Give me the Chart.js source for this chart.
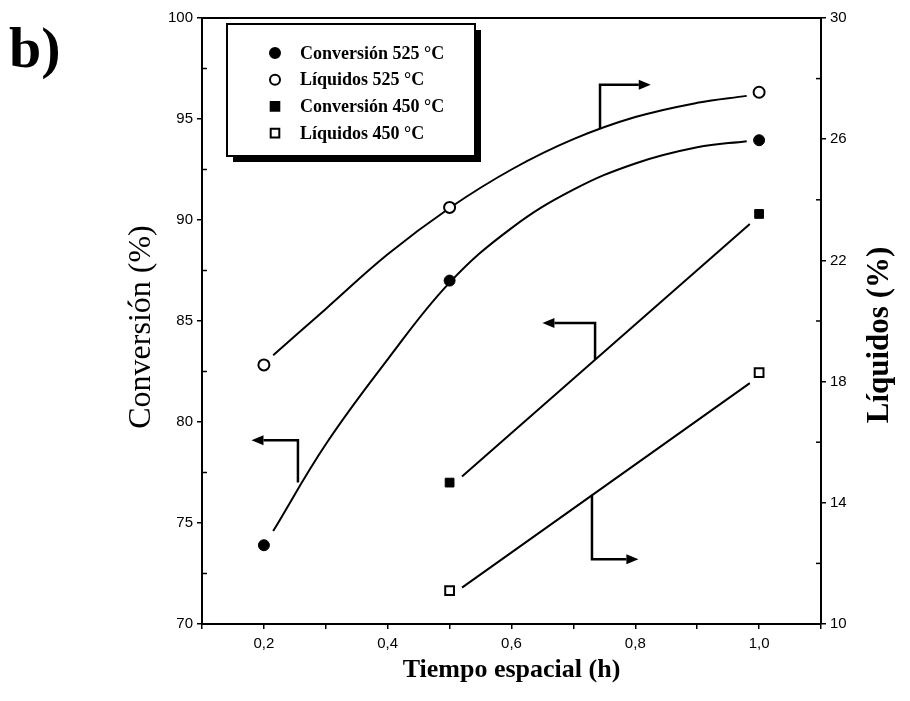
<!DOCTYPE html>
<html>
<head>
<meta charset="utf-8">
<script src="https://cdn.jsdelivr.net/npm/chart.js@4/dist/chart.umd.min.js"></script>
<style>
  html, body { margin: 0; background: #fff; }
  #wrap { width: 910px; height: 701px; }
</style>
</head>
<body>
<div id="wrap"><canvas id="chart"></canvas></div>
<script>
/** DATA */

// measured points
const tiempo525 = [0.2, 0.5, 1.0];
const conv525 = [73.9, 87.0, 93.95];
const liq525 = [18.55, 23.75, 27.55];

const tiempo450 = [0.5, 1.0];
const conv450 = [77.0, 90.3];
const liq450 = [11.1, 18.3];

// fitted curves as drawn in the figure
const fitX525 = [0.215, 0.3, 0.4, 0.5, 0.6, 0.7, 0.8, 0.9, 0.98];
const conv525Fit = [74.6, 78.9, 83.1, 86.9, 89.6, 91.5, 92.8, 93.6, 93.9];
const liq525Fit = [18.87, 20.4, 22.2, 23.73, 25.0, 26.0, 26.73, 27.2, 27.43];

const fitX450 = [0.52, 0.985];
const conv450Fit = [77.3, 89.8];
const liq450Fit = [11.2, 17.95];

// arrows (x, left axis value), last point is the tip
const arrows = [
    [[0.255, 77.0], [0.255, 79.1], [0.18, 79.1]],
    [[0.743, 94.5], [0.743, 96.7], [0.825, 96.7]],
    [[0.735, 83.1], [0.735, 84.9], [0.65, 84.9]],
    [[0.730, 76.4], [0.730, 73.2], [0.805, 73.2]]
];

const xLabels = [0.2, 0.4, 0.6, 0.8, 1.0];
const minorLeft = [72.5, 77.5, 82.5, 87.5, 92.5, 97.5];
const minorRight = [12, 16, 20, 24, 28];

/** CHART */

const pts = (xs, ys) => xs.map((x, i) => ({ x: x, y: ys[i] }));

const fitLine = (xs, ys, axis) => ({
    data: pts(xs, ys),
    yAxisID: axis,
    showLine: true,
    borderColor: '#000',
    borderWidth: 2,
    pointRadius: 0,
    tension: 0.4,
    order: 2
});

const markers = (label, xs, ys, axis, style, filled) => ({
    label: label,
    data: pts(xs, ys),
    yAxisID: axis,
    showLine: false,
    pointStyle: style,
    pointRadius: style === 'rect' ? 6.2 : 5.5,
    pointBackgroundColor: filled ? '#000' : '#fff',
    pointBorderColor: '#000',
    pointBorderWidth: filled ? 1 : 2,
    order: 1
});

const drawMarker = (ctx, style, filled, cx, cy) => {
    ctx.save();
    ctx.fillStyle = filled ? '#000' : '#fff';
    ctx.strokeStyle = '#000';
    ctx.lineWidth = 2;
    ctx.beginPath();
    if (style === 'rect') {
        ctx.rect(cx - 4.3, cy - 4.3, 8.6, 8.6);
    } else {
        ctx.arc(cx, cy, 5, 0, Math.PI * 2);
    }
    ctx.fill();
    ctx.stroke();
    ctx.restore();
}

const decor = {
    id: 'decor',
    afterDraw(chart) {
        const { ctx, chartArea: a, scales } = chart;
        const x = scales.x, y = scales.y, y2 = scales.y2;
        ctx.save();
        ctx.strokeStyle = '#000';
        ctx.fillStyle = '#000';

        // top frame line
        ctx.lineWidth = 2;
        ctx.beginPath();
        ctx.moveTo(a.left, a.top);
        ctx.lineTo(a.right, a.top);
        ctx.stroke();

        // minor ticks, inside
        ctx.lineWidth = 1.5;
        minorLeft.forEach(v => {
            const py = y.getPixelForValue(v);
            ctx.beginPath();
            ctx.moveTo(a.left, py);
            ctx.lineTo(a.left + 5, py);
            ctx.stroke();
        });
        minorRight.forEach(v => {
            const py = y2.getPixelForValue(v);
            ctx.beginPath();
            ctx.moveTo(a.right, py);
            ctx.lineTo(a.right - 5, py);
            ctx.stroke();
        });

        // arrows
        ctx.lineWidth = 2.5;
        arrows.forEach(path => {
            const p = path.map(q => [x.getPixelForValue(q[0]), y.getPixelForValue(q[1])]);
            const n = p.length;
            const tip = p[n - 1], prev = p[n - 2];
            const ang = Math.atan2(tip[1] - prev[1], tip[0] - prev[0]);
            const head = 12;
            ctx.beginPath();
            ctx.moveTo(p[0][0], p[0][1]);
            for (let i = 1; i < n - 1; i++) ctx.lineTo(p[i][0], p[i][1]);
            ctx.lineTo(tip[0] - Math.cos(ang) * head, tip[1] - Math.sin(ang) * head);
            ctx.stroke();
            ctx.beginPath();
            ctx.moveTo(tip[0], tip[1]);
            ctx.lineTo(tip[0] - Math.cos(ang) * head - Math.sin(ang) * 5, tip[1] - Math.sin(ang) * head + Math.cos(ang) * 5);
            ctx.lineTo(tip[0] - Math.cos(ang) * head + Math.sin(ang) * 5, tip[1] - Math.sin(ang) * head - Math.cos(ang) * 5);
            ctx.closePath();
            ctx.fill();
        });

        // legend box with shadow
        const lx = 227, ly = 24, lw = 248, lh = 132;
        ctx.fillRect(lx + 6, ly + 6, lw, lh);
        ctx.fillStyle = '#fff';
        ctx.fillRect(lx, ly, lw, lh);
        ctx.lineWidth = 2;
        ctx.strokeRect(lx, ly, lw, lh);
        ctx.fillStyle = '#000';
        ctx.font = "bold 18px 'Liberation Serif', 'Times New Roman', serif";
        ctx.textBaseline = 'middle';
        ctx.textAlign = 'left';
        const items = chart.data.datasets.filter(d => d.label);
        items.forEach((d, i) => {
            const cy = 53 + i * 26.7;
            drawMarker(ctx, d.pointStyle, d.pointBackgroundColor === '#000', 275, cy);
            ctx.fillText(d.label, 300, cy + 1);
        });

        // axis titles
        ctx.textAlign = 'center';
        ctx.font = "bold 26px 'Liberation Serif', 'Times New Roman', serif";
        ctx.fillText('Tiempo espacial (h)', (a.left + a.right) / 2, 670);

        ctx.save();
        ctx.translate(142, (a.top + a.bottom) / 2 + 6);
        ctx.rotate(-Math.PI / 2);
        ctx.font = "32px 'Liberation Serif', 'Times New Roman', serif";
        ctx.fillText('Conversión (%)', 0, 0);
        ctx.restore();

        ctx.save();
        ctx.translate(880, (a.top + a.bottom) / 2 + 14);
        ctx.rotate(-Math.PI / 2);
        ctx.font = "bold 31px 'Liberation Serif', 'Times New Roman', serif";
        ctx.fillText('Líquidos (%)', 0, 0);
        ctx.restore();

        // panel letter
        ctx.textAlign = 'left';
        ctx.textBaseline = 'alphabetic';
        ctx.font = "bold 58px 'Liberation Serif', 'Times New Roman', serif";
        ctx.fillText('b)', 9, 67);

        ctx.restore();
    }
};

const tickFont = { family: "'Liberation Sans', Arial, sans-serif", size: 15 };

const axisGrid = { drawOnChartArea: false, color: '#000', lineWidth: 1.5, tickLength: 5 };
const axisBorder = { color: '#000', width: 2 };

new Chart(document.getElementById('chart'), {
    type: 'scatter',
    data: {
        datasets: [
            fitLine(fitX525, conv525Fit, 'y'),
            fitLine(fitX525, liq525Fit, 'y2'),
            fitLine(fitX450, conv450Fit, 'y'),
            fitLine(fitX450, liq450Fit, 'y2'),
            markers('Conversión 525 °C', tiempo525, conv525, 'y', 'circle', true),
            markers('Líquidos 525 °C', tiempo525, liq525, 'y2', 'circle', false),
            markers('Conversión 450 °C', tiempo450, conv450, 'y', 'rect', true),
            markers('Líquidos 450 °C', tiempo450, liq450, 'y2', 'rect', false)
        ]
    },
    options: {
        responsive: true,
        maintainAspectRatio: false,
        animation: false,
        layout: { padding: { top: 18, left: 0, right: 0, bottom: 0 } },
        plugins: {
            legend: { display: false },
            tooltip: { enabled: false }
        },
        scales: {
            x: {
                type: 'linear',
                min: 0.1,
                max: 1.1,
                grid: axisGrid,
                border: axisBorder,
                ticks: {
                    stepSize: 0.1,
                    autoSkip: false,
                    maxRotation: 0,
                    color: '#000',
                    font: tickFont,
                    padding: 6,
                    callback: (v) => {
                        const r = Math.round(v * 10) / 10;
                        return xLabels.includes(r) ? r.toFixed(1).replace('.', ',') : '';
                    }
                },
                afterFit: (s) => { s.height = 77; }
            },
            y: {
                position: 'left',
                min: 70,
                max: 100,
                grid: axisGrid,
                border: axisBorder,
                ticks: { stepSize: 5, color: '#000', font: tickFont, padding: 4 },
                afterFit: (s) => { s.width = 202; }
            },
            y2: {
                position: 'right',
                min: 10,
                max: 30,
                grid: axisGrid,
                border: axisBorder,
                ticks: { stepSize: 4, color: '#000', font: tickFont, padding: 4 },
                afterFit: (s) => { s.width = 89; }
            }
        }
    },
    plugins: [decor]
});
</script>
</body>
</html>
